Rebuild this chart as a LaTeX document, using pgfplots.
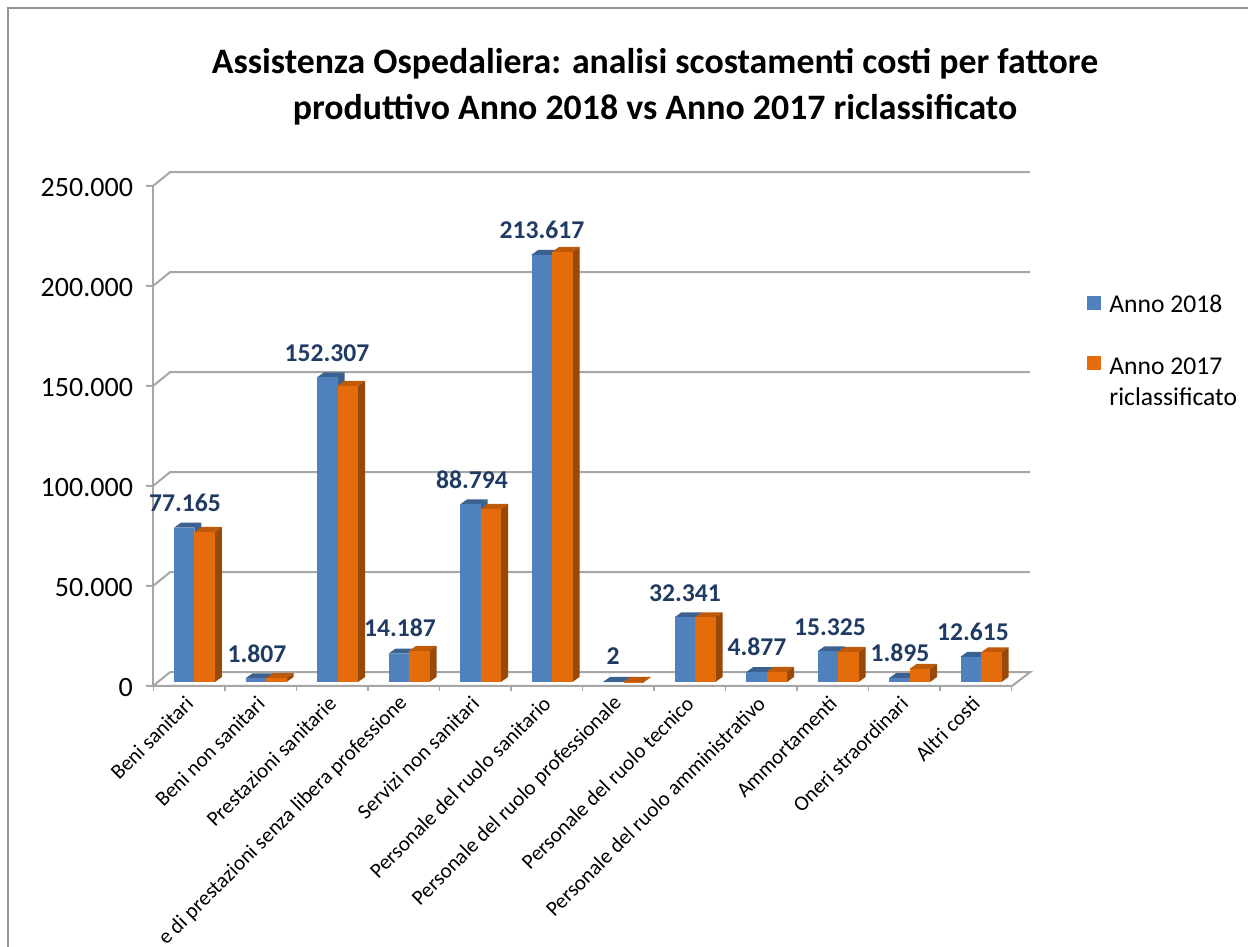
\documentclass[border=0pt]{standalone}
\usepackage{fontspec}
\setmainfont{Carlito}
\usepackage{pgfplots}
\pgfplotsset{compat=1.18}
\definecolor{bfront}{HTML}{4F81BD}
\definecolor{bside}{HTML}{3A6190}
\definecolor{ofront}{HTML}{E46C0A}
\definecolor{oside}{HTML}{984807}
\definecolor{otop}{HTML}{BF5A08}
\definecolor{gridc}{HTML}{A6A6A6}
\definecolor{labc}{HTML}{1F3A63}
% one 3D column: left edge (px), value (thousands), front, side, top colours
\newcommand\tdbar[5]{%
  \pgfmathsetmacro\xa{#1}%
  \pgfmathsetmacro\xb{#1+20.5}%
  \pgfmathsetmacro\xc{#1+27.5}%
  \pgfmathsetmacro\xd{#1+7}%
  \pgfmathsetmacro\ya{2}%
  \pgfmathsetmacro\yb{#2+2}%
  \pgfmathsetmacro\yc{#2+4.5}%
  \pgfmathsetmacro\yd{4.5}%
  \edef\temp{%
    \noexpand\addplot[fill=#5,draw=none,forget plot] coordinates {(\xa,\yb)(\xb,\yb)(\xc,\yc)(\xd,\yc)} --cycle;
    \noexpand\addplot[fill=#4,draw=none,forget plot] coordinates {(\xb,\ya)(\xc,\yd)(\xc,\yc)(\xb,\yb)} --cycle;
    \noexpand\addplot[fill=#3,draw=none,forget plot] coordinates {(\xa,\ya)(\xb,\ya)(\xb,\yb)(\xa,\yb)} --cycle;
  }\temp}
\newcommand\bl[2]{\tdbar{#1}{#2}{bfront}{bside}{bside}}
\newcommand\og[2]{\tdbar{#1}{#2}{ofront}{oside}{otop}}
\begin{document}
\begin{tikzpicture}[x=1pt,y=1pt]
\clip[use as bounding box] (0,0) rectangle (624,473.5);
\draw[gridc!90!black,line width=0.9pt] (4,-2) -- (4,469.5) -- (626,469.5);
\begin{axis}[
  at={(76.5pt,130.5pt)},anchor=south west,
  scale only axis,width=438.5pt,height=257pt,
  xmin=153,xmax=1030,ymin=0,ymax=257,
  clip=false,
  axis line style={draw=none},
  major tick length=0pt,
  ytick={0,50,100,150,200,250},
  yticklabels={0,50.000,100.000,150.000,200.000,250.000},
  yticklabel style={font=\fontsize{14}{16}\selectfont,anchor=east,xshift=-6.5pt,yshift=-1pt},
  xtick={189.75,261.25,332.75,404.25,475.75,547.25,618.75,690.25,761.75,833.25,904.75,976.25},
  xticklabels={Beni sanitari,Beni non sanitari,Prestazioni sanitarie,e di prestazioni senza libera professione,Servizi non sanitari,Personale del ruolo sanitario,Personale del ruolo professionale,Personale del ruolo tecnico,Personale del ruolo amministrativo,Ammortamenti,Oneri straordinari,Altri costi},
  xticklabel style={font=\fontsize{10.6}{12}\selectfont,yshift=-7pt,rotate=45,anchor=east,inner sep=0pt},
  title={Assistenza Ospedaliera: analisi scostamenti costi per fattore\\ produttivo Anno 2018 vs Anno 2017 riclassificato},
  title style={at={(axis cs:655,293.5)},anchor=center,align=center,font=\fontsize{17.9}{23}\selectfont\bfseries},
  legend style={draw=none,fill=none,at={(axis cs:1087,195.5)},anchor=north west,inner sep=0pt,row sep=18.5pt,
    font=\fontsize{12.8}{15.5}\selectfont,nodes={inner sep=0pt}},
  legend cell align=left,
  legend image code/.code={\fill[#1,draw=none] (0pt,-2.2pt) rectangle (7pt,4.8pt);\path[draw=none] (0pt,0pt) -- (11pt,0pt);},
]
\addlegendimage{bfront}
\addlegendentry{Anno 2018}
\addlegendimage{ofront}
\addlegendentry{\begin{tabular}[t]{@{}l@{}}Anno 2017\\riclassificato\end{tabular}}
% walls and floor
\addplot[gridc,line width=1pt,forget plot] coordinates {(146,250)(153,250)(170,256.9)(1030,256.9)};
\addplot[gridc,line width=1pt,forget plot] coordinates {(146,200)(153,200)(170,206.9)(1030,206.9)};
\addplot[gridc,line width=1pt,forget plot] coordinates {(146,150)(153,150)(170,156.9)(1030,156.9)};
\addplot[gridc,line width=1pt,forget plot] coordinates {(146,100)(153,100)(170,106.9)(1030,106.9)};
\addplot[gridc,line width=1pt,forget plot] coordinates {(146,50)(153,50)(170,56.9)(1030,56.9)};
\addplot[gridc,line width=1pt,forget plot] coordinates {(146,0)(1012,0)(1030,6.9)(170,6.9)(153,0)};
\addplot[gridc,line width=1pt,forget plot] coordinates {(153,0)(153,250)};
\addplot[gridc,line width=.8pt,forget plot] coordinates {(153.5,0)(153.5,-2.5)};
\addplot[gridc,line width=.8pt,forget plot] coordinates {(225,0)(225,-2.5)};
\addplot[gridc,line width=.8pt,forget plot] coordinates {(296.5,0)(296.5,-2.5)};
\addplot[gridc,line width=.8pt,forget plot] coordinates {(368,0)(368,-2.5)};
\addplot[gridc,line width=.8pt,forget plot] coordinates {(439.5,0)(439.5,-2.5)};
\addplot[gridc,line width=.8pt,forget plot] coordinates {(511,0)(511,-2.5)};
\addplot[gridc,line width=.8pt,forget plot] coordinates {(582.5,0)(582.5,-2.5)};
\addplot[gridc,line width=.8pt,forget plot] coordinates {(654,0)(654,-2.5)};
\addplot[gridc,line width=.8pt,forget plot] coordinates {(725.5,0)(725.5,-2.5)};
\addplot[gridc,line width=.8pt,forget plot] coordinates {(797,0)(797,-2.5)};
\addplot[gridc,line width=.8pt,forget plot] coordinates {(868.5,0)(868.5,-2.5)};
\addplot[gridc,line width=.8pt,forget plot] coordinates {(940,0)(940,-2.5)};
\addplot[gridc,line width=.8pt,forget plot] coordinates {(1011.5,0)(1011.5,-2.5)};
% columns
\bl{174}{77.165}\og{194.5}{75}
\bl{245.5}{1.807}\og{266}{1.9}
\bl{317}{152.307}\og{337.5}{148}
\bl{388.5}{14.187}\og{409}{15.5}
\bl{460}{88.794}\og{480.5}{86.5}
\bl{531.5}{213.617}\og{552}{215}
\bl{603}{0.002}\og{623.5}{0.05}
\bl{674.5}{32.341}\og{695}{32.3}
\bl{746}{4.877}\og{766.5}{5}
\bl{817.5}{15.325}\og{838}{15}
\bl{889}{1.895}\og{909.5}{6.5}
\bl{960.5}{12.615}\og{981}{14.8}
% data labels, at their places in the picture
\addplot[only marks,mark=none,forget plot,point meta=explicit symbolic,
  nodes near coords,nodes near coords align={center},
  every node near coord/.style={anchor=center,inner sep=0pt,text=labc,font=\fontsize{12.8}{14}\selectfont\bfseries}]
  table[x=x,y=y,meta=label]{
x y label
185 91.5 77.165
257 16 1.807
327 166.5 152.307
400 29 14.187
472 103 88.794
542 228 213.617
613 15 2
685 46.5 32.341
757 19.5 4.877
830 29.5 15.325
900 16.5 1.895
973 27 12.615
};
\end{axis}
\end{tikzpicture}
\end{document}
